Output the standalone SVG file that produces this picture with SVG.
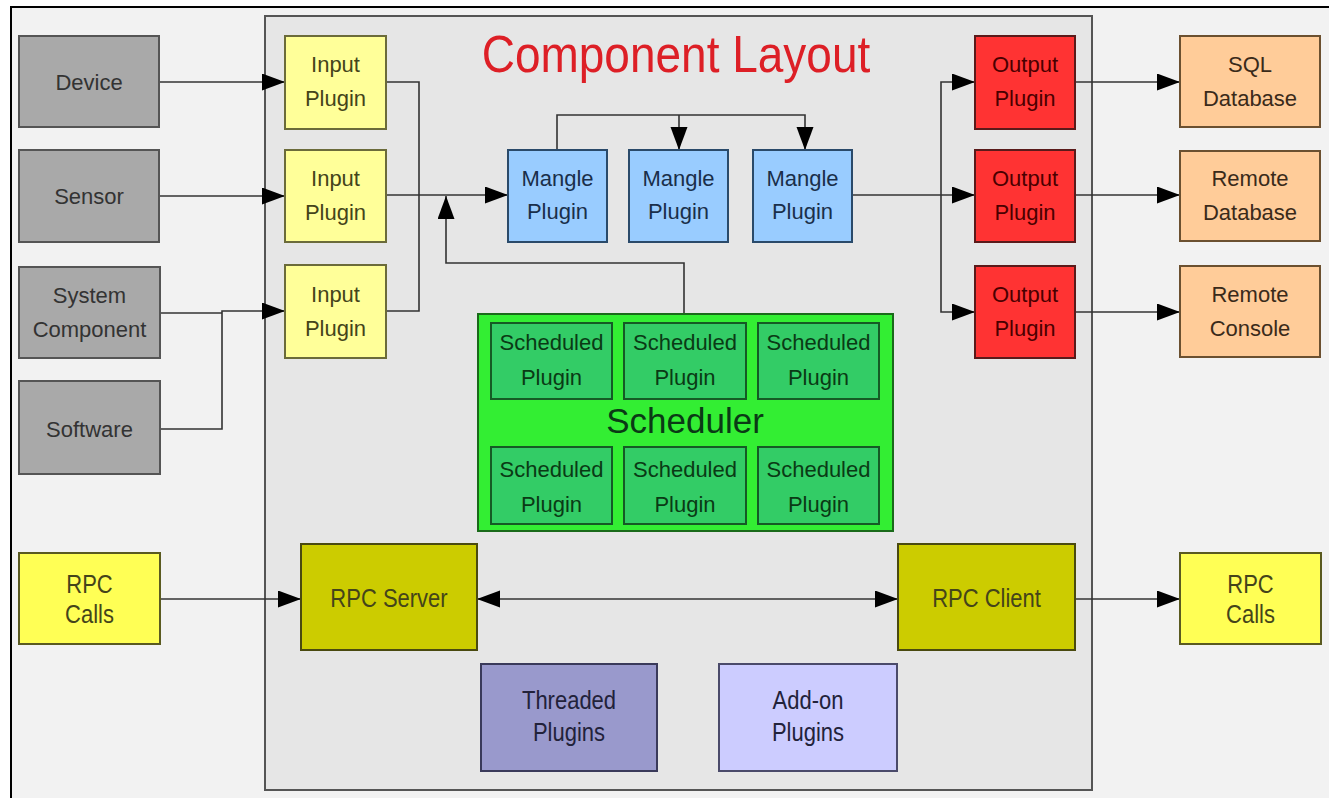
<svg xmlns="http://www.w3.org/2000/svg" width="1329" height="798" viewBox="0 0 1329 798">
<defs>
<style>
text{font-family:"Liberation Sans",Arial,sans-serif;font-size:22px;text-anchor:middle}
.b{stroke-width:2}
.grey{fill:#a9a9a9;stroke:#555}
.inp{fill:#ffff99;stroke:#6b6b3a}
.mng{fill:#99ccff;stroke:#2a4a6a}
.out{fill:#ff3333;stroke:#5a1a1a}
.ext{fill:#ffcc99;stroke:#6b5030}
.sch{fill:#33ee33;stroke:#1a6a1a}
.spl{fill:#33cc66;stroke:#155a25}
.rpc{fill:#cccc00;stroke:#4a4a10}
.call{fill:#ffff55;stroke:#5a5a20}
.thr{fill:#9999cc;stroke:#3a3a5a}
.add{fill:#ccccff;stroke:#4a4a6a}
.tg{fill:#333}
.ty{fill:#44441a}
.tb{fill:#1a2f4a}
.tr{fill:#4a0000}
.to{fill:#3a2a1a}
.tgr{fill:#0a3a15}
.tp{fill:#22223a}
.c{fill:none;stroke:#333;stroke-width:1.6}
</style>
<marker id="ah" markerUnits="userSpaceOnUse" markerWidth="26" markerHeight="20" refX="23" refY="8.5" orient="auto-start-reverse">
<path d="M0,0 L23,8.5 L0,17 z" fill="#000"/>
</marker>
</defs>
<rect x="0" y="0" width="1329" height="798" fill="#fff"/>
<rect x="11" y="7" width="1330" height="800" fill="#f2f2f2" stroke="#000" stroke-width="2"/>
<g id="panel">
<rect x="265" y="16" width="827" height="774" fill="#e6e6e6" stroke="#555" stroke-width="2"/>
<text x="676" y="72" transform="translate(676,72) scale(1,1.12) translate(-676,-72)" style="font-size:46px;fill:#dd1f26">Component Layout</text>
</g>
<g id="connectors">
<path class="c" d="M159,82 H285" marker-end="url(#ah)"/>
<path class="c" d="M159,196 H285" marker-end="url(#ah)"/>
<path class="c" d="M160,313 H222"/>
<path class="c" d="M160,429 H222 V311 H285" marker-end="url(#ah)"/>
<path class="c" d="M386,82 H419 V311 H386"/>
<path class="c" d="M386,195 H508" marker-end="url(#ah)"/>
<path class="c" d="M684,314 V263 H446 V196" marker-end="url(#ah)"/>
<path class="c" d="M557,150 V115 H805 V150" marker-end="url(#ah)"/>
<path class="c" d="M679,115 V150" marker-end="url(#ah)"/>
<path class="c" d="M852,195 H941"/>
<path class="c" d="M941,195 V82 H975" marker-end="url(#ah)"/>
<path class="c" d="M941,195 H975" marker-end="url(#ah)"/>
<path class="c" d="M941,195 V312 H975" marker-end="url(#ah)"/>
<path class="c" d="M1075,82 H1180" marker-end="url(#ah)"/>
<path class="c" d="M1075,195 H1180" marker-end="url(#ah)"/>
<path class="c" d="M1075,312 H1180" marker-end="url(#ah)"/>
<path class="c" d="M160,599 H301" marker-end="url(#ah)"/>
<path class="c" d="M477,599 H898" marker-start="url(#ah)" marker-end="url(#ah)"/>
<path class="c" d="M1075,599 H1180" marker-end="url(#ah)"/>
</g>
<g id="device"><rect class="grey b" x="19" y="36" width="140" height="91"/><text class="tg" x="89" y="90">Device</text></g>
<g id="sensor"><rect class="grey b" x="19" y="150" width="140" height="92"/><text class="tg" x="89" y="204">Sensor</text></g>
<g id="system-component"><rect class="grey b" x="19" y="267" width="141" height="91"/><text class="tg" x="89.5" y="303">System<tspan x="89.5" y="337">Component</tspan></text></g>
<g id="software"><rect class="grey b" x="19" y="381" width="141" height="93"/><text class="tg" x="89.5" y="437">Software</text></g>
<g id="input1"><rect class="inp b" x="285" y="36" width="101" height="93"/><text class="ty" x="335.5" y="72">Input<tspan x="335.5" y="106">Plugin</tspan></text></g>
<g id="input2"><rect class="inp b" x="285" y="150" width="101" height="92"/><text class="ty" x="335.5" y="186">Input<tspan x="335.5" y="220">Plugin</tspan></text></g>
<g id="input3"><rect class="inp b" x="285" y="265" width="101" height="93"/><text class="ty" x="335.5" y="302">Input<tspan x="335.5" y="336">Plugin</tspan></text></g>
<g id="mangle1"><rect class="mng b" x="508" y="150" width="99" height="92"/><text class="tb" x="557.5" y="186">Mangle<tspan x="557.5" y="219">Plugin</tspan></text></g>
<g id="mangle2"><rect class="mng b" x="629" y="150" width="99" height="92"/><text class="tb" x="678.5" y="186">Mangle<tspan x="678.5" y="219">Plugin</tspan></text></g>
<g id="mangle3"><rect class="mng b" x="753" y="150" width="99" height="92"/><text class="tb" x="802.5" y="186">Mangle<tspan x="802.5" y="219">Plugin</tspan></text></g>
<g id="output1"><rect class="out b" x="975" y="36" width="100" height="93"/><text class="tr" x="1025" y="72">Output<tspan x="1025" y="106">Plugin</tspan></text></g>
<g id="output2"><rect class="out b" x="975" y="150" width="100" height="92"/><text class="tr" x="1025" y="186">Output<tspan x="1025" y="220">Plugin</tspan></text></g>
<g id="output3"><rect class="out b" x="975" y="266" width="100" height="92"/><text class="tr" x="1025" y="302">Output<tspan x="1025" y="336">Plugin</tspan></text></g>
<g id="sql-db"><rect class="ext b" x="1180" y="36" width="140" height="91"/><text class="to" x="1250" y="72">SQL<tspan x="1250" y="106">Database</tspan></text></g>
<g id="remote-db"><rect class="ext b" x="1180" y="151" width="140" height="90"/><text class="to" x="1250" y="186">Remote<tspan x="1250" y="220">Database</tspan></text></g>
<g id="remote-console"><rect class="ext b" x="1180" y="266" width="140" height="91"/><text class="to" x="1250" y="302">Remote<tspan x="1250" y="336">Console</tspan></text></g>
<g id="scheduler">
<rect class="sch b" x="478" y="314" width="415" height="217"/>
<text class="tgr" x="685" y="433" style="font-size:35px">Scheduler</text>
</g>
<g id="sp1"><rect class="spl b" x="491" y="323" width="121" height="76"/><text class="tgr" x="551.5" y="350">Scheduled<tspan x="551.5" y="385">Plugin</tspan></text></g>
<g id="sp2"><rect class="spl b" x="624" y="323" width="122" height="76"/><text class="tgr" x="685" y="350">Scheduled<tspan x="685" y="385">Plugin</tspan></text></g>
<g id="sp3"><rect class="spl b" x="758" y="323" width="121" height="76"/><text class="tgr" x="818.5" y="350">Scheduled<tspan x="818.5" y="385">Plugin</tspan></text></g>
<g id="sp4"><rect class="spl b" x="491" y="447" width="121" height="77"/><text class="tgr" x="551.5" y="477">Scheduled<tspan x="551.5" y="512">Plugin</tspan></text></g>
<g id="sp5"><rect class="spl b" x="624" y="447" width="122" height="77"/><text class="tgr" x="685" y="477">Scheduled<tspan x="685" y="512">Plugin</tspan></text></g>
<g id="sp6"><rect class="spl b" x="758" y="447" width="121" height="77"/><text class="tgr" x="818.5" y="477">Scheduled<tspan x="818.5" y="512">Plugin</tspan></text></g>
<g id="rpc-calls-in"><rect class="call b" x="19" y="553" width="141" height="91"/><text class="ty" transform="translate(89.5,593) scale(1,1.2)" x="0" y="0">RPC<tspan x="0" y="25">Calls</tspan></text></g>
<g id="rpc-server"><rect class="rpc b" x="301" y="544" width="176" height="106"/><text class="ty" transform="translate(389,607) scale(1,1.2)" x="0" y="0">RPC Server</text></g>
<g id="rpc-client"><rect class="rpc b" x="898" y="544" width="177" height="106"/><text class="ty" transform="translate(986.5,607) scale(1,1.2)" x="0" y="0">RPC Client</text></g>
<g id="rpc-calls-out"><rect class="call b" x="1180" y="553" width="141" height="91"/><text class="ty" transform="translate(1250.5,593) scale(1,1.2)" x="0" y="0">RPC<tspan x="0" y="25">Calls</tspan></text></g>
<g id="threaded"><rect class="thr b" x="481" y="664" width="176" height="107"/><text class="tp" transform="translate(569,709) scale(1,1.2)" x="0" y="0">Threaded<tspan x="0" y="27">Plugins</tspan></text></g>
<g id="addon"><rect class="add b" x="719" y="664" width="178" height="107"/><text class="tp" transform="translate(808,709) scale(1,1.2)" x="0" y="0">Add-on<tspan x="0" y="27">Plugins</tspan></text></g>
</svg>
